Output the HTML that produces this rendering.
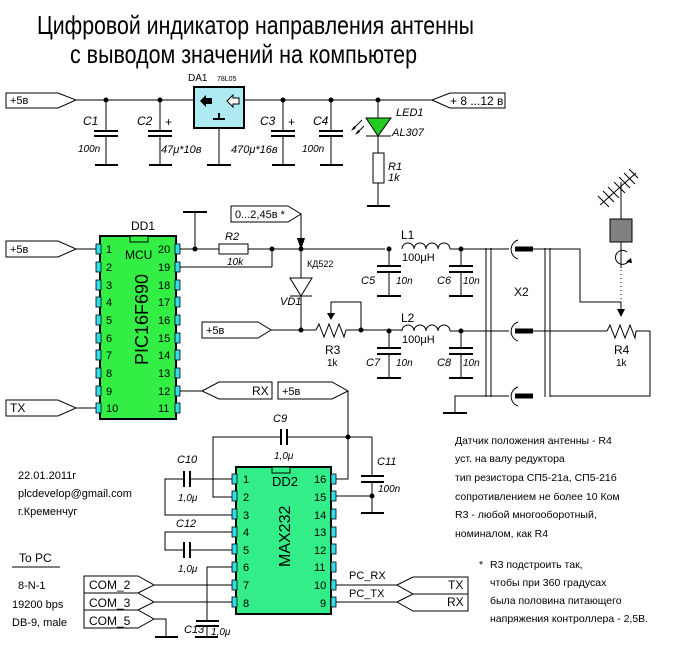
<!DOCTYPE html>
<html><head><meta charset="utf-8"><style>
html,body{margin:0;padding:0;background:#fff;}
svg{display:block;font-family:"Liberation Sans",Arial,sans-serif;}
text{font-size:11px;fill:#000;}
.i{font-style:italic;}
</style></head><body>
<svg width="679" height="650" viewBox="0 0 679 650" xmlns="http://www.w3.org/2000/svg">
<text x="37" y="34" style="font-size:26px" textLength="437" lengthAdjust="spacingAndGlyphs">Цифровой индикатор направления антенны</text>
<text x="70" y="63" style="font-size:26px" textLength="347" lengthAdjust="spacingAndGlyphs">с выводом значений на компьютер</text>

<g stroke="#000" stroke-width="1" fill="none">
<polygon points="6,93 58,93 76,100 58,108 6,108" fill="#fff"/>
<polygon points="505,93 450,93 432,100 450,108 505,108" fill="#fff"/>
<line x1="76" y1="100" x2="194" y2="100"/>
<line x1="244" y1="100" x2="432" y2="100"/>
<line x1="106" y1="100" x2="106" y2="131"/><line x1="106" y1="136" x2="106" y2="165"/>
<line x1="94" y1="131" x2="118" y2="131" stroke-width="2"/><line x1="94" y1="136" x2="118" y2="136" stroke-width="2"/>
<line x1="95" y1="165" x2="118" y2="165" stroke-width="2"/>
<line x1="160" y1="100" x2="160" y2="131"/><line x1="160" y1="136" x2="160" y2="165"/>
<line x1="148" y1="131" x2="172" y2="131" stroke-width="2"/><line x1="148" y1="136" x2="172" y2="136" stroke-width="2"/>
<line x1="149" y1="165" x2="172" y2="165" stroke-width="2"/>
<line x1="219" y1="128" x2="219" y2="165"/><line x1="207" y1="165" x2="231" y2="165" stroke-width="2"/>
<line x1="283" y1="100" x2="283" y2="131"/><line x1="283" y1="136" x2="283" y2="165"/>
<line x1="271" y1="131" x2="295" y2="131" stroke-width="2"/><line x1="271" y1="136" x2="295" y2="136" stroke-width="2"/>
<line x1="272" y1="165" x2="295" y2="165" stroke-width="2"/>
<line x1="331" y1="100" x2="331" y2="131"/><line x1="331" y1="136" x2="331" y2="165"/>
<line x1="319" y1="131" x2="343" y2="131" stroke-width="2"/><line x1="319" y1="136" x2="343" y2="136" stroke-width="2"/>
<line x1="320" y1="165" x2="343" y2="165" stroke-width="2"/>
<line x1="378" y1="100" x2="378" y2="153"/>
<polygon points="366,118 391,118 378,136" fill="#22cc22"/>
<line x1="366" y1="136" x2="391" y2="136"/>
<rect x="373" y="153" width="11" height="30" fill="#fff"/>
<line x1="378" y1="183" x2="378" y2="206"/><line x1="367" y1="206" x2="390" y2="206" stroke-width="2"/>
<line x1="353" y1="129" x2="362" y2="120"/><line x1="357" y1="133" x2="364" y2="126"/>
</g>
<polygon points="351,131 356,128 354,126" fill="#000"/>
<polygon points="355,135 360,132 358,130" fill="#000"/>
<g fill="#000">
<circle cx="106" cy="100" r="2.5"/><circle cx="160" cy="100" r="2.5"/><circle cx="283" cy="100" r="2.5"/><circle cx="331" cy="100" r="2.5"/><circle cx="378" cy="100" r="2.5"/>
</g>
<rect x="194" y="87" width="50" height="41" fill="#aeeaf2" stroke="#000" stroke-width="2"/>
<polygon points="200,101 206,95 206,98 212,98 212,104 206,104 206,107" fill="#000"/>
<polygon points="227,101 233,95 233,98 239,98 239,104 233,104 233,107" fill="#fff" stroke="#000"/>
<line x1="213" y1="119" x2="225" y2="119" stroke="#000" stroke-width="2"/><line x1="219" y1="113" x2="219" y2="119" stroke="#000" stroke-width="2"/>
<text x="10" y="104">+5в</text>
<text x="450" y="105" style="font-size:12px">+ 8 ...12 в</text>
<text x="188" y="81" style="font-size:10px">DA1</text><text x="217" y="81" style="font-size:7px">78L05</text>
<text x="83" y="125" class="i" style="font-size:12px">C1</text>
<text x="137" y="125" class="i" style="font-size:12px">C2</text>
<text x="165" y="126" style="font-size:12px">+</text>
<text x="78" y="152" class="i" style="font-size:10px">100n</text>
<text x="161" y="153" class="i" style="font-size:11px">47μ*10в</text>
<text x="260" y="125" class="i" style="font-size:12px">C3</text>
<text x="288" y="126" style="font-size:12px">+</text>
<text x="231" y="153" class="i" style="font-size:11px">470μ*16в</text>
<text x="313" y="125" class="i" style="font-size:12px">C4</text>
<text x="302" y="152" class="i" style="font-size:10px">100n</text>
<text x="396" y="116" class="i" style="font-size:11px">LED1</text>
<text x="392" y="136" class="i" style="font-size:11px">AL307</text>
<text x="388" y="170" class="i" style="font-size:11px">R1</text>
<text x="388" y="181" class="i" style="font-size:11px">1k</text>

<rect x="100" y="236" width="76" height="183" fill="#33ee44" stroke="#000" stroke-width="2"/>
<rect x="130" y="236" width="18" height="6" fill="#33ee44" stroke="#000"/>
<g fill="#33dde8" stroke="#000" stroke-width="0.8">
<rect x="96" y="244" width="5" height="10"/><rect x="96" y="262" width="5" height="10"/><rect x="96" y="280" width="5" height="10"/><rect x="96" y="297" width="5" height="10"/><rect x="96" y="315" width="5" height="10"/><rect x="96" y="333" width="5" height="10"/><rect x="96" y="350" width="5" height="10"/><rect x="96" y="368" width="5" height="10"/><rect x="96" y="386" width="5" height="10"/><rect x="96" y="403" width="5" height="10"/>
<rect x="175" y="244" width="5" height="10"/><rect x="175" y="262" width="5" height="10"/><rect x="175" y="280" width="5" height="10"/><rect x="175" y="297" width="5" height="10"/><rect x="175" y="315" width="5" height="10"/><rect x="175" y="333" width="5" height="10"/><rect x="175" y="350" width="5" height="10"/><rect x="175" y="368" width="5" height="10"/><rect x="175" y="386" width="5" height="10"/><rect x="175" y="403" width="5" height="10"/>
</g>
<g style="font-size:12px">
<text x="106" y="253">1</text><text x="106" y="271">2</text><text x="106" y="289">3</text><text x="106" y="306">4</text><text x="106" y="324">5</text><text x="106" y="342">6</text><text x="106" y="359">7</text><text x="106" y="377">8</text><text x="106" y="395">9</text><text x="106" y="412">10</text>
<text x="158" y="253">20</text><text x="158" y="271">19</text><text x="158" y="289">18</text><text x="158" y="306">17</text><text x="158" y="324">16</text><text x="158" y="342">15</text><text x="158" y="359">14</text><text x="158" y="377">13</text><text x="158" y="395">12</text><text x="158" y="412">11</text>
</g>
<text x="125" y="259" style="font-size:12px">MCU</text>
<text x="131" y="230" style="font-size:12px">DD1</text>
<text transform="translate(148,365) rotate(-90)" style="font-size:18px">PIC16F690</text>

<g stroke="#000" stroke-width="1" fill="none">
<polygon points="6,241 58,241 76,249 58,257 6,257" fill="#fff"/>
<line x1="76" y1="249" x2="96" y2="249"/>
<polygon points="6,400 58,400 76,408 58,416 6,416" fill="#fff"/>
<line x1="76" y1="408" x2="96" y2="408"/>
<line x1="180" y1="249" x2="219" y2="249"/><line x1="248" y1="249" x2="385" y2="249"/>
<line x1="195" y1="249" x2="195" y2="212"/><line x1="183" y1="212" x2="207" y2="212" stroke-width="2"/>
<rect x="219" y="244" width="29" height="10" fill="#fff"/>
<line x1="180" y1="267" x2="272" y2="267"/><line x1="272" y1="267" x2="272" y2="249"/>
<polygon points="231,206 288,206 301,214 288,222 231,222" fill="#fff"/>
<line x1="301" y1="214" x2="301" y2="240"/>
<line x1="301" y1="249" x2="301" y2="330"/>
<polygon points="290,278 312,278 301,296" fill="#fff"/>
<line x1="290" y1="296" x2="312" y2="296"/>
<polygon points="202,322 258,322 271,330 258,338 202,338" fill="#fff"/>
<line x1="271" y1="330" x2="316" y2="330"/>
<polyline points="316,330 319,324 324,337 329,324 334,337 339,324 344,337 346,330"/>
<line x1="346" y1="330" x2="402" y2="330"/>
<polyline points="331,316 331,302 361,302 361,330"/>
<path d="M402,249 a6,6 0 0 1 12,0 a6,6 0 0 1 12,0 a6,6 0 0 1 12,0 a6,6 0 0 1 12,0"/>
<line x1="450" y1="249" x2="509" y2="249"/>
<path d="M402,331 a6,6 0 0 1 12,0 a6,6 0 0 1 12,0 a6,6 0 0 1 12,0 a6,6 0 0 1 12,0"/>
<line x1="450" y1="331" x2="509" y2="331"/>
<line x1="389" y1="249" x2="389" y2="266"/><line x1="389" y1="272" x2="389" y2="296"/>
<line x1="377" y1="266" x2="401" y2="266" stroke-width="2"/><line x1="377" y1="272" x2="401" y2="272" stroke-width="2"/><line x1="377" y1="296" x2="401" y2="296" stroke-width="2"/>
<line x1="461" y1="249" x2="461" y2="266"/><line x1="461" y1="272" x2="461" y2="296"/>
<line x1="449" y1="266" x2="473" y2="266" stroke-width="2"/><line x1="449" y1="272" x2="473" y2="272" stroke-width="2"/><line x1="449" y1="296" x2="473" y2="296" stroke-width="2"/>
<line x1="389" y1="331" x2="389" y2="348"/><line x1="389" y1="354" x2="389" y2="378"/>
<line x1="377" y1="348" x2="401" y2="348" stroke-width="2"/><line x1="377" y1="354" x2="401" y2="354" stroke-width="2"/><line x1="377" y1="378" x2="401" y2="378" stroke-width="2"/>
<line x1="461" y1="331" x2="461" y2="348"/><line x1="461" y1="354" x2="461" y2="378"/>
<line x1="449" y1="348" x2="473" y2="348" stroke-width="2"/><line x1="449" y1="354" x2="473" y2="354" stroke-width="2"/><line x1="449" y1="378" x2="473" y2="378" stroke-width="2"/>
<line x1="486" y1="248" x2="486" y2="397"/><line x1="491" y1="248" x2="491" y2="397"/>
<line x1="545" y1="248" x2="545" y2="397"/><line x1="550" y1="248" x2="550" y2="397"/>
<path d="M518,240 a10,10 0 0 0 0,19"/><path d="M518,322 a10,10 0 0 0 0,19"/><path d="M518,387 a10,10 0 0 0 0,19"/>
<line x1="515" y1="249" x2="533" y2="249" stroke-width="5"/>
<line x1="515" y1="331" x2="533" y2="331" stroke-width="5"/>
<line x1="515" y1="396" x2="533" y2="396" stroke-width="5"/>
<polyline points="533,249 580,249 580,302 621,302 621,312"/>
<line x1="533" y1="331" x2="607" y2="331"/>
<polyline points="607,331 610,325 615,338 620,325 625,338 630,325 635,338 636,331"/>
<polyline points="636,331 650,331 650,396 550,396"/>
<line x1="486" y1="396" x2="509" y2="396"/>
<polyline points="486,396 455,396 455,413"/>
<line x1="443" y1="413" x2="467" y2="413" stroke-width="2"/>
<line x1="621" y1="182" x2="621" y2="219"/>
<line x1="600" y1="205" x2="636" y2="173"/>
<line x1="598" y1="196" x2="609" y2="207"/><line x1="603" y1="191" x2="614" y2="202"/><line x1="608" y1="187" x2="619" y2="198"/><line x1="614" y1="182" x2="625" y2="193"/><line x1="619" y1="177" x2="630" y2="188"/><line x1="624" y1="173" x2="635" y2="184"/><line x1="629" y1="169" x2="638" y2="178"/>
<line x1="621" y1="242" x2="621" y2="268"/>
<path d="M627,252 a7,7 0 1 0 2,8"/>
<line x1="621" y1="270" x2="621" y2="300" stroke-dasharray="1,3"/>
</g>
<polygon points="626,262 631,258 632,263" fill="#000"/>
<rect x="610" y="219" width="22" height="23" fill="#808080" stroke="#000"/>
<polygon points="297,238 305,238 301,250" fill="#000"/>
<polygon points="327,313 335,313 331,320" fill="#000"/>
<polygon points="617,309 625,309 621,317" fill="#000"/>
<g fill="#000">
<circle cx="195" cy="249" r="2.5"/><circle cx="272" cy="249" r="2.5"/><circle cx="301" cy="249" r="2.5"/><circle cx="301" cy="330" r="2.5"/><circle cx="361" cy="330" r="2.5"/>
<circle cx="389" cy="249" r="2.5"/><circle cx="461" cy="249" r="2.5"/><circle cx="389" cy="331" r="2.5"/><circle cx="461" cy="331" r="2.5"/>
</g>
<text x="10" y="253">+5в</text>
<text x="10" y="412" style="font-size:12px">TX</text>
<text x="225" y="240" class="i" style="font-size:11px">R2</text>
<text x="227" y="265" class="i" style="font-size:10px">10k</text>
<text x="235" y="218" style="font-size:11px">0...2,45в *</text>
<text x="307" y="267" style="font-size:9px">КД522</text>
<text x="280" y="305" class="i" style="font-size:11px">VD1</text>
<text x="206" y="334">+5в</text>
<text x="325" y="354" style="font-size:12px">R3</text><text x="327" y="366" style="font-size:10px">1k</text>
<text x="401" y="239" style="font-size:12px">L1</text><text x="402" y="261" style="font-size:11px">100μH</text>
<text x="401" y="322" style="font-size:12px">L2</text><text x="402" y="343" style="font-size:11px">100μH</text>
<text x="361" y="284" class="i" style="font-size:11px">C5</text><text x="396" y="284" class="i" style="font-size:10px">10n</text>
<text x="437" y="284" class="i" style="font-size:11px">C6</text><text x="463" y="284" class="i" style="font-size:10px">10n</text>
<text x="366" y="366" class="i" style="font-size:11px">C7</text><text x="396" y="366" class="i" style="font-size:10px">10n</text>
<text x="437" y="366" class="i" style="font-size:11px">C8</text><text x="463" y="366" class="i" style="font-size:10px">10n</text>
<text x="514" y="296" style="font-size:12px">X2</text>
<text x="614" y="354" style="font-size:12px">R4</text><text x="616" y="366" style="font-size:10px">1k</text>

<g stroke="#000" stroke-width="1" fill="none">
<line x1="180" y1="391" x2="202" y2="391"/>
<polygon points="202,391 219,382 272,382 272,399 219,399" fill="#fff"/>
<polygon points="278,382 332,382 348,391 332,399 278,399" fill="#fff"/>
<line x1="348" y1="391" x2="348" y2="437"/>
<polyline points="232,497 213,497 213,437 281,437"/><line x1="287" y1="437" x2="372" y2="437"/>
<line x1="281" y1="429" x2="281" y2="445" stroke-width="2"/><line x1="287" y1="429" x2="287" y2="445" stroke-width="2"/>
<polyline points="336,479 348,479 348,437"/>
<polyline points="372,437 372,476"/><line x1="372" y1="482" x2="372" y2="513"/>
<line x1="361" y1="476" x2="384" y2="476" stroke-width="2"/><line x1="361" y1="482" x2="384" y2="482" stroke-width="2"/>
<line x1="361" y1="513" x2="384" y2="513" stroke-width="2"/>
<line x1="336" y1="496" x2="372" y2="496"/>
<polyline points="232,515 165,515 165,479 184,479"/><line x1="190" y1="479" x2="232" y2="479"/>
<line x1="184" y1="471" x2="184" y2="487" stroke-width="2"/><line x1="190" y1="471" x2="190" y2="487" stroke-width="2"/>
<polyline points="232,532 165,532 165,550 184,550"/><line x1="190" y1="550" x2="232" y2="550"/>
<line x1="184" y1="542" x2="184" y2="558" stroke-width="2"/><line x1="190" y1="542" x2="190" y2="558" stroke-width="2"/>
<polyline points="232,567 207,567 207,621"/>
<line x1="196" y1="621" x2="219" y2="621" stroke-width="2"/><line x1="196" y1="626" x2="219" y2="626" stroke-width="2"/>
<line x1="207" y1="626" x2="207" y2="637"/>
<line x1="195" y1="637" x2="218" y2="637" stroke-width="2"/>
<polygon points="84,576 138,576 154,585 138,593 84,593" fill="#fff"/>
<polygon points="84,593 138,593 154,602 138,610 84,610" fill="#fff"/>
<polygon points="84,610 138,610 154,619 138,628 84,628" fill="#fff"/>
<line x1="154" y1="585" x2="232" y2="585"/>
<line x1="154" y1="602" x2="232" y2="602"/>
<polyline points="154,619 166,619 166,637"/>
<line x1="155" y1="637" x2="178" y2="637" stroke-width="2"/>
<line x1="336" y1="585" x2="397" y2="585"/>
<line x1="336" y1="602" x2="397" y2="602"/>
<polygon points="397,585 413,577 468,577 468,594 413,594" fill="#fff"/>
<polygon points="397,602 413,594 468,594 468,611 413,611" fill="#fff"/>
<line x1="12" y1="567" x2="60" y2="567"/>
</g>
<rect x="236" y="467" width="95" height="147" fill="#33ee88" stroke="#000" stroke-width="2"/>
<rect x="272" y="467" width="18" height="6" fill="#33ee88" stroke="#000"/>
<g fill="#33dde8" stroke="#000" stroke-width="0.8">
<rect x="232" y="474" width="5" height="10"/><rect x="232" y="491" width="5" height="10"/><rect x="232" y="509" width="5" height="10"/><rect x="232" y="527" width="5" height="10"/><rect x="232" y="544" width="5" height="10"/><rect x="232" y="562" width="5" height="10"/><rect x="232" y="580" width="5" height="10"/><rect x="232" y="597" width="5" height="10"/>
<rect x="331" y="474" width="5" height="10"/><rect x="331" y="491" width="5" height="10"/><rect x="331" y="509" width="5" height="10"/><rect x="331" y="527" width="5" height="10"/><rect x="331" y="544" width="5" height="10"/><rect x="331" y="562" width="5" height="10"/><rect x="331" y="580" width="5" height="10"/><rect x="331" y="597" width="5" height="10"/>
</g>
<g style="font-size:11px">
<text x="243" y="483">1</text><text x="243" y="501">2</text><text x="243" y="519">3</text><text x="243" y="536">4</text><text x="243" y="554">5</text><text x="243" y="571">6</text><text x="243" y="589">7</text><text x="243" y="607">8</text>
<text x="314" y="483">16</text><text x="314" y="501">15</text><text x="314" y="519">14</text><text x="314" y="536">13</text><text x="314" y="554">12</text><text x="314" y="571">11</text><text x="314" y="589">10</text><text x="320" y="607">9</text>
</g>
<text x="272" y="486" style="font-size:13px">DD2</text>
<text transform="translate(290,567) rotate(-90)" style="font-size:16px">MAX232</text>
<g fill="#000"><circle cx="348" cy="437" r="2.5"/><circle cx="372" cy="496" r="2.5"/></g>
<text x="252" y="395" style="font-size:12px">RX</text>
<text x="282" y="395">+5в</text>
<text x="273" y="422" class="i" style="font-size:11px">C9</text>
<text x="274" y="459" class="i" style="font-size:10px">1,0μ</text>
<text x="377" y="465" class="i" style="font-size:11px">C11</text>
<text x="378" y="492" class="i" style="font-size:10px">100n</text>
<text x="177" y="463" class="i" style="font-size:11px">C10</text>
<text x="178" y="501" class="i" style="font-size:10px">1,0μ</text>
<text x="176" y="527" class="i" style="font-size:11px">C12</text>
<text x="178" y="572" class="i" style="font-size:10px">1,0μ</text>
<text x="184" y="633" class="i" style="font-size:11px">C13</text>
<text x="211" y="635" class="i" style="font-size:10px">1,0μ</text>
<text x="89" y="589" style="font-size:12px">COM_2</text>
<text x="89" y="607" style="font-size:12px">COM_3</text>
<text x="89" y="625" style="font-size:12px">COM_5</text>
<text x="349" y="579" style="font-size:11px">PC_RX</text>
<text x="349" y="597" style="font-size:11px">PC_TX</text>
<text x="448" y="589" style="font-size:12px">TX</text>
<text x="447" y="606" style="font-size:12px">RX</text>

<text x="18" y="479">22.01.2011г</text>
<text x="18" y="497">plcdevelop@gmail.com</text>
<text x="18" y="515">г.Кременчуг</text>
<text x="19" y="562" style="font-size:12px">To PC</text>
<text x="18" y="589">8-N-1</text>
<text x="12" y="608">19200 bps</text>
<text x="12" y="626">DB-9, male</text>

<text x="455" y="444" style="font-size:10.5px">Датчик положения антенны - R4</text>
<text x="455" y="462" style="font-size:10.5px">уст. на валу редуктора</text>
<text x="455" y="481" style="font-size:10.5px">тип резистора СП5-21а, СП5-21б</text>
<text x="455" y="500" style="font-size:10.5px">сопротивлением не более 10 Ком</text>
<text x="455" y="518" style="font-size:10.5px">R3 - любой многооборотный,</text>
<text x="455" y="537" style="font-size:10.5px">номиналом, как R4</text>
<text x="479" y="568" style="font-size:10.5px">*</text>
<text x="490" y="568" style="font-size:10.5px">R3 подстроить так,</text>
<text x="490" y="586" style="font-size:10.5px">чтобы при 360 градусах</text>
<text x="490" y="604" style="font-size:10.5px">была половина питающего</text>
<text x="490" y="622" style="font-size:10.5px">напряжения контроллера - 2,5В.</text>
</svg>
</body></html>
